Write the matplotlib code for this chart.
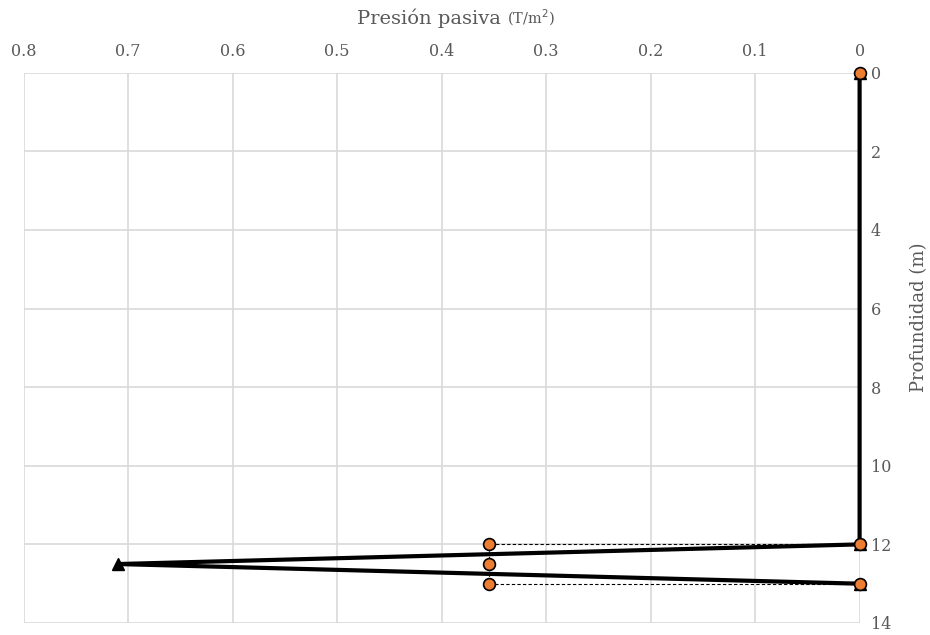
import matplotlib
matplotlib.use("Agg")
import matplotlib.pyplot as plt
from matplotlib.ticker import FuncFormatter

# Data
main_x = [0.0, 0.0, 0.71, 0.0]
main_y = [0.0, 12.0, 12.5, 13.0]
circ_x = [0.0, 0.0, 0.0, 0.355, 0.355, 0.355]
circ_y = [0.0, 12.0, 13.0, 12.0, 12.5, 13.0]
dash_x = [0.0, 0.355, 0.355, 0.355, 0.0]
dash_y = [12.0, 12.0, 12.5, 13.0, 13.0]
x_ticks = [0.8, 0.7, 0.6, 0.5, 0.4, 0.3, 0.2, 0.1, 0.0]
y_ticks = [0, 2, 4, 6, 8, 10, 12, 14]

plt.rcParams['font.family'] = ['DejaVu Serif']
txt = '#595959'
fig = plt.figure(figsize=(9.3, 6.35), dpi=100)
ax = fig.add_axes([0.0254, 0.0189, 0.9243 - 0.0254, 0.8854 - 0.0189])

ax.plot(dash_x, dash_y, color='black', lw=0.8, ls=(0, (3, 2)), zorder=2)
ax.plot(main_x, main_y, color='black', lw=3, marker='^', ms=8, zorder=3, clip_on=False)
ax.plot(circ_x, circ_y, ls='none', marker='o', ms=8.5, mfc='#ed7d31', mec='black',
        mew=1.2, zorder=4, clip_on=False)

ax.set_xlim(0.8, 0.0)
ax.set_ylim(14, 0)
ax.set_xticks(x_ticks)
ax.set_yticks(y_ticks)
ax.xaxis.set_major_formatter(FuncFormatter(lambda v, p: '0' if abs(v) < 1e-9 else f'{v:.1f}'))
ax.xaxis.tick_top()
ax.yaxis.tick_right()
ax.tick_params(axis='both', length=0, labelsize=11.5, labelcolor=txt)
ax.tick_params(axis='x', pad=9)
ax.tick_params(axis='y', pad=8)
ax.grid(True, color='#d9d9d9', lw=1.2)
for s in ax.spines.values():
    s.set_visible(False)
ax.set_axisbelow(True)

fig.text(0.545, 0.962, 'Presión pasiva ', ha='right', va='baseline', fontsize=14, color=txt)
fig.text(0.545, 0.962, '(T/m$^2$)', ha='left', va='baseline', fontsize=10.5, color=txt)
fig.text(0.988, 0.5, 'Profundidad (m)', rotation=90, ha='center', va='center', fontsize=13, color=txt)

fig.savefig('out.png', dpi=100)
